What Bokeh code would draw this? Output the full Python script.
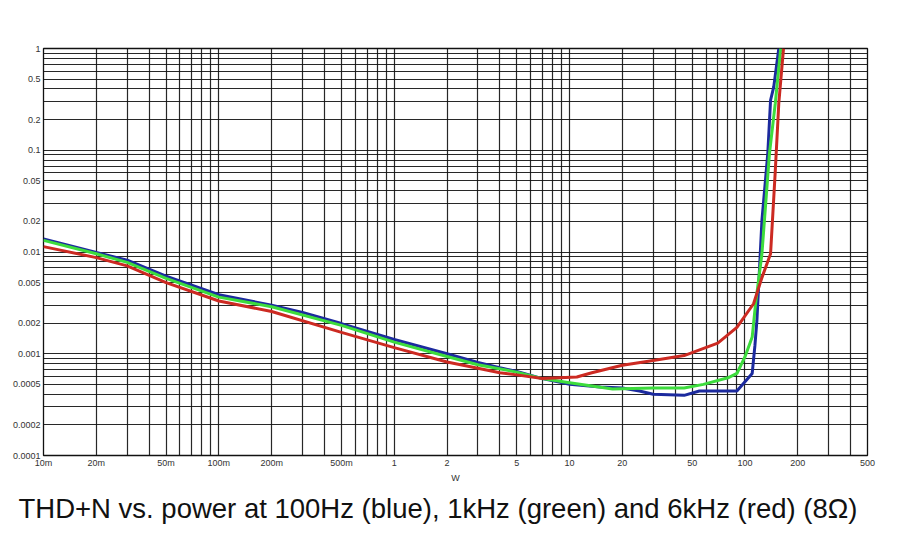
from bokeh.plotting import figure
from bokeh.models import Range1d, FixedTicker, CustomJSTickFormatter, Label, Title
from bokeh.embed import file_html
from bokeh.resources import INLINE

# ---- data ----
blue_w = [0.01, 0.02, 0.03, 0.05, 0.1, 0.2, 0.3, 0.5, 1, 2, 3, 4, 5, 7, 10, 15, 20, 25, 30, 45, 55, 70, 90, 110, 114, 117, 125, 135, 140, 146, 156]
blue_thd = [0.0134, 0.0099, 0.0083, 0.0058, 0.0038, 0.0030, 0.00255, 0.00198, 0.00138, 0.00100, 0.00082, 0.00073, 0.00067, 0.00057, 0.00050, 0.00047, 0.00046, 0.00043, 0.00040, 0.00039, 0.00043, 0.00043, 0.00043, 0.00064, 0.0012, 0.0021, 0.0204, 0.093, 0.31, 0.42, 1.0]

green_w = [0.01, 0.02, 0.03, 0.05, 0.1, 0.2, 0.5, 1, 2, 3, 5, 7, 10, 17.6, 30, 45, 58, 80, 90, 100, 110, 115, 125, 138, 149, 160]
green_thd = [0.0130, 0.0096, 0.0079, 0.0055, 0.0036, 0.0029, 0.0019, 0.00130, 0.00094, 0.00078, 0.00066, 0.00057, 0.00052, 0.00045, 0.00046, 0.00046, 0.00050, 0.00058, 0.00064, 0.00093, 0.00146, 0.0031, 0.0096, 0.093, 0.29, 1.0]

red_w = [0.01, 0.02, 0.03, 0.05, 0.1, 0.2, 0.5, 1, 2, 3, 4, 5, 7, 11, 13.4, 20, 30, 45, 70, 90, 112, 125, 140, 149, 156, 166]
red_thd = [0.0113, 0.0088, 0.0073, 0.0050, 0.0033, 0.0026, 0.00162, 0.00115, 0.00083, 0.00072, 0.00065, 0.00062, 0.00057, 0.00059, 0.00065, 0.00077, 0.00086, 0.00096, 0.00127, 0.00182, 0.0031, 0.0056, 0.0096, 0.063, 0.29, 1.0]

x_ticks = [0.01, 0.02, 0.05, 0.1, 0.2, 0.5, 1, 2, 5, 10, 20, 50, 100, 200, 500]
y_ticks = [1, 0.5, 0.2, 0.1, 0.05, 0.02, 0.01, 0.005, 0.002, 0.001, 0.0005, 0.0002, 0.0001]
x_grid = [m * d for d in [0.01, 0.1, 1, 10, 100] for m in range(1, 10) if m * d <= 500]
y_grid = [m * d for d in [0.0001, 0.001, 0.01, 0.1] for m in range(1, 10)] + [1]

caption = "THD+N vs. power at 100Hz (blue), 1kHz (green) and 6kHz (red) (8\u03a9)"

FONT = "Liberation Sans"

p = figure(width=902, height=532, x_axis_type="log", y_axis_type="log",
           x_range=Range1d(0.01, 500), y_range=Range1d(0.0001, 1),
           output_backend="svg", toolbar_location=None,
           min_border_left=43, min_border_right=35, min_border_top=48, min_border_bottom=77)
p.background_fill_color = "white"
p.border_fill_color = "white"
p.outline_line_color = "#111111"
p.outline_line_width = 1.3

for ax, ticks, code in [
    (p.xaxis, x_ticks, "if (tick < 1) { return Math.round(tick*1000) + 'm'; } return String(Math.round(tick));"),
    (p.yaxis, y_ticks, "return String(Number(tick.toPrecision(3)));"),
]:
    ax.ticker = FixedTicker(ticks=ticks)
    ax.formatter = CustomJSTickFormatter(code=code)
    ax.axis_line_color = None
    ax.major_tick_line_color = None
    ax.minor_tick_line_color = None
    ax.major_tick_out = 0
    ax.major_tick_in = 0
    ax.minor_tick_out = 0
    ax.major_label_text_font = FONT
    ax.major_label_text_font_size = "9px"
    ax.major_label_text_color = "#333333"
    ax.major_label_standoff = 3

p.xaxis.major_label_standoff = 2
p.xaxis.axis_label = "W"
p.xaxis.axis_label_text_font = FONT
p.xaxis.axis_label_text_font_size = "9px"
p.xaxis.axis_label_text_font_style = "normal"
p.xaxis.axis_label_text_color = "#333333"
p.xaxis.axis_label_standoff = 2

p.xgrid.ticker = FixedTicker(ticks=x_grid)
p.ygrid.ticker = FixedTicker(ticks=y_grid)
for g in (p.xgrid, p.ygrid):
    g.grid_line_color = "#111111"
    g.grid_line_width = 1.2
    g.grid_line_alpha = 0.9

p.line(blue_w, blue_thd, line_color="#1c2a9e", line_width=3)
p.line(green_w, green_thd, line_color="#3ddc3d", line_width=3)
p.line(red_w, red_thd, line_color="#cc2a22", line_width=3)

p.add_layout(Label(x=0.00583, y=0.0098, text="%", text_align="left", text_baseline="middle",
                   text_font=FONT, text_font_size="9px", text_color="#333333"))
p.add_layout(Title(text=caption, align="left", offset=-25, standoff=11,
                   text_font=FONT, text_font_size="27.5px", text_font_style="normal",
                   text_color="#111111"), "below")

open("out.html", "w").write(file_html(p, INLINE))
